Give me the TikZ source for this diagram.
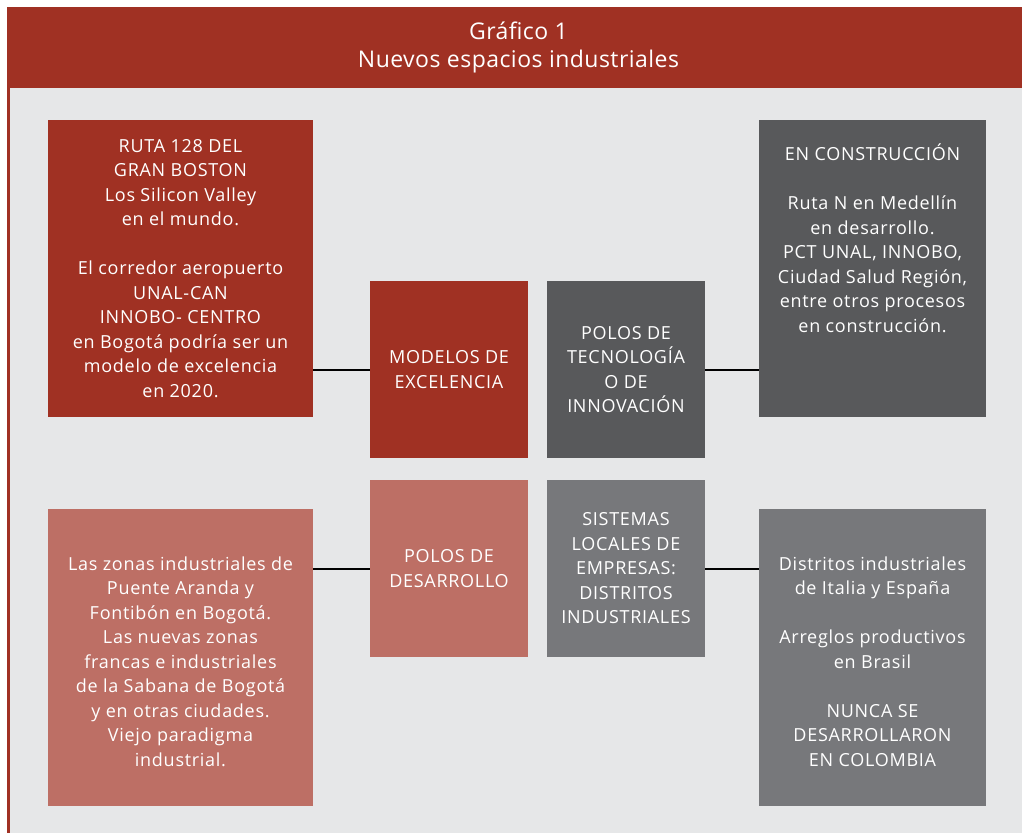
\documentclass[tikz,border=0pt]{standalone}
\usepackage{fontspec}
\setmainfont{Open Sans}[LetterSpace=4]
\newfontfamily\titlefont{Open Sans}[LetterSpace=2]
\usetikzlibrary{calc}
\definecolor{darkred}{HTML}{A03123}
\definecolor{lightred}{HTML}{BD6F65}
\definecolor{darkgray}{HTML}{58595B}
\definecolor{midgray}{HTML}{77787B}
\definecolor{bggray}{HTML}{E6E7E8}
\tikzset{
  box/.style={draw=none, inner sep=0pt, anchor=center, text=white, align=center,
    font=\fontsize{18}{24.5}\selectfont},
  link/.style={draw=black, line width=2pt},
}
\begin{document}
\begin{tikzpicture}[x=1pt,y=-1pt]
\fill[white] (0,0) rectangle (1022,833);
\useasboundingbox (0,0) rectangle (1022,833);
\fill[bggray] (7,88) rectangle (1022,833);
\fill[darkred] (7,7) rectangle (1022,88);
\fill[darkred] (7,88) rectangle (9.5,833);
\node[text=white, align=center, font=\titlefont\fontsize{23}{28}\selectfont] (title) at (518.5,47) {Gráfico 1\\Nuevos espacios industriales};
% boxes
\node[box, fill=darkred, minimum width=265pt, minimum height=297pt] (A) at (180.5,268.5)
 {RUTA 128 DEL\\GRAN BOSTON\\Los Silicon Valley\\en el mundo.\\[24.5pt]El corredor aeropuerto\\UNAL-CAN\\INNOBO- CENTRO\\en Bogotá podría ser un\\modelo de excelencia\\en 2020.};
\node[box, fill=darkred, minimum width=158pt, minimum height=177pt] (B) at (449,369.5)
 {MODELOS DE\\EXCELENCIA};
\node[box, fill=darkgray, minimum width=158pt, minimum height=177pt] (C) at (626,369.5)
 {POLOS DE\\TECNOLOGÍA\\O DE\\INNOVACIÓN};
\node[box, fill=darkgray, minimum width=227pt, minimum height=297pt] (D) at (872.5,268.5) {};
\node[box] (Dtext) at (872.5,238)
 {EN CONSTRUCCIÓN\\[24.5pt]Ruta N en Medellín\\en desarrollo.\\PCT UNAL, INNOBO,\\Ciudad Salud Región,\\entre otros procesos\\en construcción.};
\node[box, fill=lightred, minimum width=265pt, minimum height=297pt] (E) at (180.5,657.5) {};
\node[box] (Etext) at (180.5,661.5)
 {Las zonas industriales de\\Puente Aranda y\\Fontibón en Bogotá.\\Las nuevas zonas\\francas e industriales\\de la Sabana de Bogotá\\y en otras ciudades.\\Viejo paradigma\\industrial.};
\node[box, fill=lightred, minimum width=158pt, minimum height=177pt] (F) at (449,568.5)
 {POLOS DE\\DESARROLLO};
\node[box, fill=midgray, minimum width=158pt, minimum height=177pt] (G) at (626,568.5)
 {SISTEMAS\\LOCALES DE\\EMPRESAS:\\DISTRITOS\\INDUSTRIALES};
\node[box, fill=midgray, minimum width=227pt, minimum height=297pt] (H) at (872.5,657.5) {};
\node[box] (Htext) at (872.5,661.5)
 {Distritos industriales\\de Italia y España\\[24.5pt]Arreglos productivos\\en Brasil\\[24.5pt]NUNCA SE\\DESARROLLARON\\EN COLOMBIA};
% connectors
\draw[link] (B.west) -- (B.west -| A.east);
\draw[link] (C.east) -- (C.east -| D.west);
\draw[link] (F.west) -- (F.west -| E.east);
\draw[link] (G.east) -- (G.east -| H.west);
\end{tikzpicture}
\end{document}
